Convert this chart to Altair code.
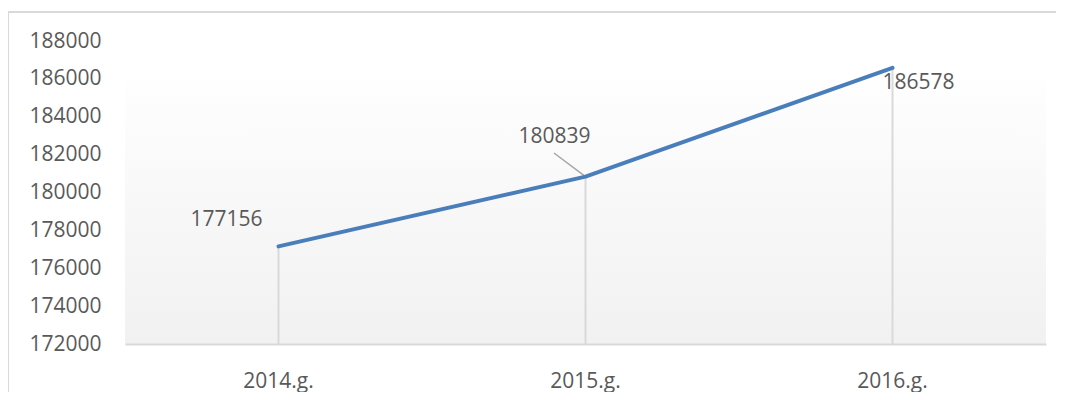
import altair as alt
import pandas as pd

years = ["2014.g.", "2015.g.", "2016.g."]
values = [177156, 180839, 186578]
y_ticks = [172000, 174000, 176000, 178000, 180000, 182000, 184000, 186000, 188000]

df = pd.DataFrame({"year": years, "value": values})
df["label"] = df["value"].astype(str)

FONT = "Open Sans"
W, H = 921, 303

x_enc = alt.X("year:N", sort=years,
              scale=alt.Scale(paddingInner=0, paddingOuter=0, align=0.5),
              axis=alt.Axis(title=None, labelAngle=0, ticks=False, domain=True,
                            domainColor="#d9d9d9", domainWidth=2, zindex=1,
                            labelPadding=26, labelFontSize=21, labelColor="#595959",
                            labelFont=FONT, grid=False))
y_enc = alt.Y("value:Q",
              scale=alt.Scale(domain=[172000, 188000], zero=False, nice=False),
              axis=alt.Axis(title=None, values=y_ticks, ticks=False, domain=False,
                            grid=False, labelPadding=24, labelFontSize=21, zindex=1,
                            format="d", labelColor="#595959", labelFont=FONT))

base = alt.Chart(df)

border = base.mark_rect(fill="white", stroke="#d9d9d9", strokeWidth=2).encode(
    x=alt.value(-117), x2=alt.value(W + 60), y=alt.value(-29), y2=alt.value(H + 120)
).transform_filter(alt.datum.year == years[0])

bg = base.mark_rect(
    fill=alt.Gradient(gradient="linear", x1=0, y1=0, x2=0, y2=1,
                      stops=[alt.GradientStop(color="#fefefe", offset=0),
                             alt.GradientStop(color="#f1f1f1", offset=1)])
).encode(x=alt.value(0), x2=alt.value(W), y=alt.value(39), y2=alt.value(H)
).transform_filter(alt.datum.year == years[0])

drop = base.mark_rule(color="#d9d9d9", strokeWidth=2).encode(
    x=x_enc, y=y_enc, y2=alt.datum(172000))

leader = base.mark_rule(color="#a6a6a6", strokeWidth=1.5).encode(
    x=x_enc, y=y_enc, x2=alt.value(554 - 125), y2=alt.value(153 - 41)
).transform_filter(alt.datum.year == years[1])

line = base.mark_line(color="#4a7ebb", strokeWidth=4, strokeCap="round",
                      strokeJoin="round").encode(x=x_enc, y=y_enc)

offsets = {years[0]: (-52, -26), years[1]: (-31, -40), years[2]: (26, 15)}
texts = []
for yr, (dx, dy) in offsets.items():
    texts.append(base.mark_text(font=FONT, fontSize=21, color="#595959",
                                dx=dx, dy=dy, align="center", baseline="middle").encode(
        x=x_enc, y=y_enc, text="label:N").transform_filter(alt.datum.year == yr))

chart = alt.layer(border, bg, drop, leader, line, *texts).properties(
    width=W, height=H,
    padding={"left": 117, "top": 33, "right": 10, "bottom": 48},
    autosize=alt.AutoSizeParams(type="none"),
    background="white",
).configure_view(stroke=None)

chart.save("out.html", embed_options={"renderer": "svg", "actions": False})
